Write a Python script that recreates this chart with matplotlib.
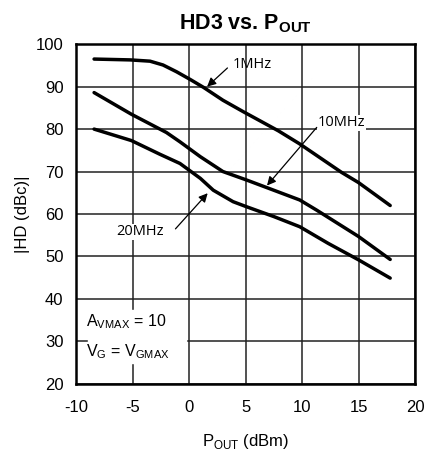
import matplotlib
matplotlib.use("Agg")
import matplotlib.pyplot as plt

plt.rcParams['font.family'] = ['Liberation Sans', 'DejaVu Sans']
plt.rcParams['mathtext.fontset'] = 'custom'
plt.rcParams['mathtext.rm'] = 'Liberation Sans'
plt.rcParams['mathtext.bf'] = 'Liberation Sans:bold'
plt.rcParams['axes.unicode_minus'] = False

# data
pout_1m = [-8.4, -5.2, -3.45, -2.3, -1.1, 0.1, 1.3, 3.0, 4.8, 7.9, 9.8, 13.5, 15.0, 17.8]
hd_1m = [96.5, 96.3, 96.0, 95.1, 93.5, 91.7, 89.8, 86.8, 84.1, 79.6, 76.5, 69.8, 67.4, 62.0]

pout_10m = [-8.4, -5.1, -2.0, -0.8, 1.0, 3.0, 5.1, 7.5, 9.8, 11.3, 15.0, 17.8]
hd_10m = [88.6, 83.5, 79.2, 77.0, 73.5, 70.0, 68.0, 65.6, 63.3, 60.9, 54.7, 49.3]

pout_20m = [-8.4, -5.1, -2.6, -0.8, 1.0, 2.15, 3.9, 5.1, 7.5, 9.8, 12.3, 15.0, 17.8]
hd_20m = [80.0, 77.3, 74.1, 71.9, 68.4, 65.6, 62.9, 61.7, 59.4, 57.0, 53.1, 49.2, 44.9]

x_ticks = [-10, -5, 0, 5, 10, 15, 20]
y_ticks = [20, 30, 40, 50, 60, 70, 80, 90, 100]

fig = plt.figure(figsize=(4.27, 4.51), dpi=100)
ax = fig.add_axes([0.178, 0.149, 0.794, 0.753])

for xs, ys in [(pout_1m, hd_1m), (pout_10m, hd_10m), (pout_20m, hd_20m)]:
    ax.plot(xs, ys, color='black', lw=2.5, solid_capstyle='round',
            solid_joinstyle='round', zorder=3)

ax.set_xlim(-10, 20)
ax.set_ylim(20, 100)
ax.set_xticks(x_ticks)
ax.set_yticks(y_ticks)
ax.grid(True, color='#222222', lw=1.1)
ax.tick_params(axis='x', length=0, labelsize=12, pad=12)
ax.tick_params(axis='y', length=0, labelsize=12, pad=9)
for sp in ax.spines.values():
    sp.set_linewidth(1.8)

ax.set_title(r'HD3 vs. P$_{\mathbf{OUT}}$', fontsize=15.5, fontweight='bold', pad=11)
ax.set_xlabel(r'P$_{\mathrm{OUT}}$ (dBm)', fontsize=12, labelpad=12)
ax.set_ylabel('|HD (dBc)|', fontsize=12, labelpad=4)

lab_font = ['Open Sans', 'DejaVu Sans']
arrow = dict(arrowstyle='-|>', color='black', lw=0.9, mutation_scale=13, shrinkA=0, shrinkB=0)

ax.text(3.9, 95.1, '1MHz', fontsize=10.5, family=lab_font, va='center', ha='left', zorder=4)
ax.annotate('', xy=(1.6, 90.0), xytext=(3.4, 94.4), arrowprops=arrow, zorder=4)

ax.text(11.4, 81.5, '10MHz', fontsize=10.5, family=lab_font, va='center', ha='left', zorder=4,
        bbox=dict(boxstyle='square,pad=0.05', fc='white', ec='none'))
ax.annotate('', xy=(6.9, 66.7), xytext=(11.3, 80.4), arrowprops=arrow, zorder=4)

ax.text(-2.2, 55.8, '20MHz', fontsize=10.5, family=lab_font, va='center', ha='right', zorder=4,
        bbox=dict(boxstyle='square,pad=0.05', fc='white', ec='none'))
ax.annotate('', xy=(1.65, 64.9), xytext=(-1.2, 56.5), arrowprops=arrow, zorder=4)

ax.fill_between([-8.9, -0.3], 25.0, 37.4, color='white', zorder=2.5)
ax.text(-9.1, 34.7, r'A$_{\mathrm{VMAX}}$ = 10', fontsize=11.5, va='center', ha='left', zorder=4)
ax.text(-9.1, 27.6, r'V$_{\mathrm{G}}$ = V$_{\mathrm{GMAX}}$', fontsize=11.5, va='center', ha='left', zorder=4)

fig.savefig('out.png', dpi=100)
